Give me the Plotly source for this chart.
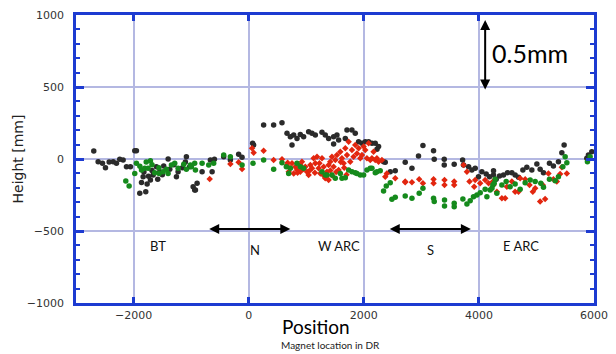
import plotly.graph_objects as go

# Magnet height survey along the DR ring (position in m, height in mm-scale units)
black_x = [-2691, -2615, -2540, -2488, -2424, -2354, -2297, -2240, -2181, -2123, -2054, -1979, -1950,
           -1833, -1862, -1892, -1788, -1764, -1707, -1660, -1603, -1545, -1476, -1399, -1371, -1255,
           -1226, -1082, -1024, -965, -938, -1740, -1680, -1820, -1580, -1500, -1300, -1150, -1100,
           -896, -925, -809, -665, -635, -595, -434, -318, -174, -115, 69, 87, 260, 434, 579,
           666, 724, 753, 782, 840, 897, 955, 1042, 1100, 1158, 1274, 1331, 1389, 1476, 1534, 1563,
           1476, 1679, 1708, 1794, 1852, 1910, 1968, 2026, 2084, 2142, 2199, 2229, 2257, 2344,
           2373, 2460, 2547, 2720, 2837, 2951, 3028, 3212, 3224, 3398, 3398, 3571, 3717, 3734, 3821,
           3878, 3936, 3993, 4052, 4127, 4184, 4254, 4254, 4300, 4358, 4427, 4497, 4573, 4630, 4688,
           4764, 4833, 4920, 5007, 5064, 5122, 5226, 5295, 5382, 5441, 5481, 5875, 5903, 5961]
black_y = [56, -19, -30, -60, -21, -19, -30, -2, -7, -53, -53, 58, 58,
           -123, -164, -238, -227, -174, -146, -111, -53, -88, -49, 0, -72, -123,
           -88, 16, -53, -192, -215, -120, -80, -90, -140, -110, -40, -60, -20,
           -169, -215, -88, -7, -88, -2, 16, -7, 33, 12, 109, 97, 236, 236, 252,
           178, 155, 97, 167, 143, 171, 155, 190, 178, 167, 185, 167, 143, 155, 167, 132,
           104, 143, 201, 201, 178, 120, 109, 120, 120, 109, 109, 67, 86, -19,
           -23, -88, -81, -23, -65, 21, 93, 58, -2, -2, -42, -37, -7, -42, -53,
           -76, -65, -123, -88, -104, -123, -111, -81, -140, -118, -111, -95, -95, -111, -127,
           -76, -58, -76, -35, -72, -95, -30, -49, -19, 44, 97, 5, 28, 51]

green_x = [-2135, -2077, -1950, -1979, -1862, -1805, -1747, -1707, -1632, -1556, -1486, -1429, -1342,
           -1285, -1226, -1128, -1082, -995, -938, -1012, -925, -809, -694, -608, -434, -318, -115,
           -1890, -1780, -1680, -1560, -1400,
           76, 260, 434, 579, 654, 695, 724, 840, 898, 955, 1274, 1332, 1360, 1447, 1505, 1592,
           1621, 1679, 1737, 1794, 1852, 1881, 1939, 1997, 2055, 2113, 2142, 2200, 2228, 2286,
           2344, 2391, 2460, 2489, 2547, 2720, 2837, 2963, 3028, 3212, 3224, 3403, 3403, 3571,
           3571, 3722, 3792, 3849, 3906, 3965, 4023, 4109, 4139, 4196, 4243, 4283, 4226, 4266,
           4312, 4399, 4474, 4543, 4630, 4717, 4804, 4891, 4978, 5076, 5122, 5226, 5325, 5382,
           5459, 5499, 5528, 5886, 5933]
green_y = [-153, -188, -30, -100, -76, -65, -65, -12, -95, -100, -88, -72, -42,
           -30, -65, -37, -72, -53, -30, -42, -76, -30, -42, -30, 28, 16, -42,
           -50, -20, -40, -60, -100,
           -30, -7, -72, -26, -53, -100, -65, -30, -53, -65, -88, -111, -111, -111, -134, -100,
           -134, -130, -76, -88, -95, -100, -111, -111, -76, -65, -65, -95, -88, -81,
           -222, -188, -165, -280, -266, -257, -273, -238, -203, -273, -296, -285, -326, -308,
           -331, -278, -313, -290, -262, -250, -234, -210, -262, -215, -181, -141, -203, -169,
           -238, -181, -157, -192, -174, -210, -165, -146, -157, -169, -197, -141, -151, -123,
           -53, 16, -26, -19, 16]

red_x = [-677, -318, -174, -115, 59, 87, 260, 434, 579, 677,
         666, 724, 753, 811, 840, 897, 926, 984, 1013, 1071, 1100, 1158, 1187, 1216, 1245, 1303,
         1331, 1360, 1389, 1418, 1447, 1476, 1505, 1534, 1563, 1592, 1621, 1650, 1679, 1708, 1737,
         1765, 1794, 1823, 1852, 1881, 1910, 1939, 1968, 1997, 2026, 2055, 2084, 2113, 2142, 2170,
         2199, 2228, 2257, 2315, 1331, 1389, 897, 695, 1274, 1129, 782, 1042,
         850, 950, 1060, 1150, 1230, 1290, 1420, 1450, 1520, 1600, 1660, 1700,
         2373, 2400, 2547, 2720, 2720, 2837, 2963, 3028, 3212, 3212, 3403, 3403, 3571, 3571, 3734,
         3792, 3837, 3936, 3918, 4023, 4109, 4168, 4254, 4312, 4243, 4399, 4457, 4486, 4573, 4630,
         4688, 4717, 4804, 4879, 4937, 4978, 5064, 5151, 5110, 5208, 5295, 5354, 5411, 5441, 5528]
red_y = [-139, -35, -23, -69, 74, 44, 58, -7, -2, -26,
         -42, -65, -30, -53, -76, -42, -19, -53, -88, -42, -65, -30, 16, -65, -100, -53,
         -123, -88, -42, -19, 16, -53, -7, 28, -76, 51, 5, -30, 74, 28, 120,
         -19, 62, 16, 97, 39, 74, 5, 28, 86, 62, 5, 109, -7, 5, 51,
         -7, 5, -19, -7, -134, -146, -88, -88, 5, 5, -100, -111,
         -95, -70, -80, -95, -30, -110, -80, -115, -90, -20, -60, -110,
         -123, -100, -134, -157, -162, -162, -141, -169, -141, -169, -146, -181, -157, -181, -42,
         -88, -157, -146, -192, -169, -146, -169, -181, -227, -157, -273, -273, -192, -157, -227,
         -227, -134, -141, -181, -227, -203, -296, -278, -181, -100, -141, -157, -104, -58, -100]

x_ticks = [-2000, 0, 2000, 4000, 6000]
y_ticks = [-1000, -500, 0, 500, 1000]

# Section labels along the ring and the straight-section spans
section_names = ["BT", "N", "W ARC", "S", "E ARC"]
section_x = [-1573, 104, 1575, 3155, 4729]
section_y = [-602, -632, -602, -632, -602]
span_n = [-712, 724]
span_s = [2425, 3861]
span_level = -486

# Vertical scale bar
scale_x = 4109
scale_bottom, scale_top = 472, 965
scale_text = "0.5mm"

AXIS_BLUE = "#1d3bd1"
GRID = "#b4b8e2"

fig = go.Figure()
fig.add_trace(go.Scatter(x=black_x, y=black_y, mode="markers",
                         marker=dict(color="#2b2b2b", size=5.5, symbol="circle"), showlegend=False))
fig.add_trace(go.Scatter(x=red_x, y=red_y, mode="markers",
                         marker=dict(color="#e2260f", size=5, symbol="diamond"), showlegend=False))
fig.add_trace(go.Scatter(x=green_x, y=green_y, mode="markers",
                         marker=dict(color="#158a1c", size=5.5, symbol="circle"), showlegend=False))

label_font = dict(family="Lato, sans-serif", size=13, color="#111111")
for name, lx, ly in zip(section_names, section_x, section_y):
    fig.add_annotation(x=lx, y=ly, text=name, showarrow=False, font=label_font)

for span in (span_n, span_s):
    fig.add_annotation(x=span[1], y=span_level, ax=span[0], ay=span_level,
                       xref="x", yref="y", axref="x", ayref="y", text="",
                       showarrow=True, arrowside="end+start", arrowhead=2,
                       arrowsize=1, arrowwidth=2, arrowcolor="black")

fig.add_annotation(x=scale_x, y=scale_top, ax=scale_x, ay=scale_bottom,
                   xref="x", yref="y", axref="x", ayref="y", text="",
                   showarrow=True, arrowside="end+start", arrowhead=2,
                   arrowsize=1, arrowwidth=2, arrowcolor="black")
fig.add_annotation(x=scale_x + 80, y=(scale_top + scale_bottom) / 2 + 15, text=scale_text,
                   showarrow=False, xanchor="left",
                   font=dict(family="Lato, sans-serif", size=25, color="black"))

fig.add_annotation(xref="paper", yref="paper", x=0.393, y=-0.035, text="Position",
                   showarrow=False, xanchor="left", yanchor="top",
                   font=dict(family="Lato, sans-serif", size=19, color="black"))
fig.add_annotation(xref="paper", yref="paper", x=0.392, y=-0.118, text="Magnet location in DR",
                   showarrow=False, xanchor="left", yanchor="top",
                   font=dict(family="Lato, sans-serif", size=10, color="#222222"))

fig.update_xaxes(range=[-3000, 6000], tickvals=x_ticks, showgrid=True, gridcolor=GRID,
                 gridwidth=1.5, zeroline=False, showline=True, linecolor=AXIS_BLUE,
                 linewidth=2.5, mirror="ticks", ticks="inside", ticklen=6, tickwidth=2.5,
                 tickcolor=AXIS_BLUE, automargin=False,
                 tickfont=dict(family="DejaVu Sans, sans-serif", size=11, color="#333333"))
fig.update_yaxes(range=[-1000, 1000], tickvals=y_ticks, showgrid=True, gridcolor=GRID,
                 gridwidth=1.5, zeroline=False, showline=True, linecolor=AXIS_BLUE,
                 linewidth=2.5, mirror="ticks", ticks="inside", ticklen=8, tickwidth=2.5,
                 tickcolor=AXIS_BLUE, automargin=False, ticklabelstandoff=7,
                 minor=dict(dtick=100, ticks="inside", ticklen=4, tickwidth=2,
                            tickcolor=AXIS_BLUE, showgrid=False),
                 title=dict(text="Height [mm]", standoff=0,
                            font=dict(family="DejaVu Sans, sans-serif", size=14, color="#222222")),
                 tickfont=dict(family="DejaVu Sans, sans-serif", size=11, color="#333333"))

fig.update_layout(width=616, height=354, margin=dict(l=76, r=22, t=15, b=51),
                  plot_bgcolor="white", paper_bgcolor="white")

fig.write_html("out.html")
